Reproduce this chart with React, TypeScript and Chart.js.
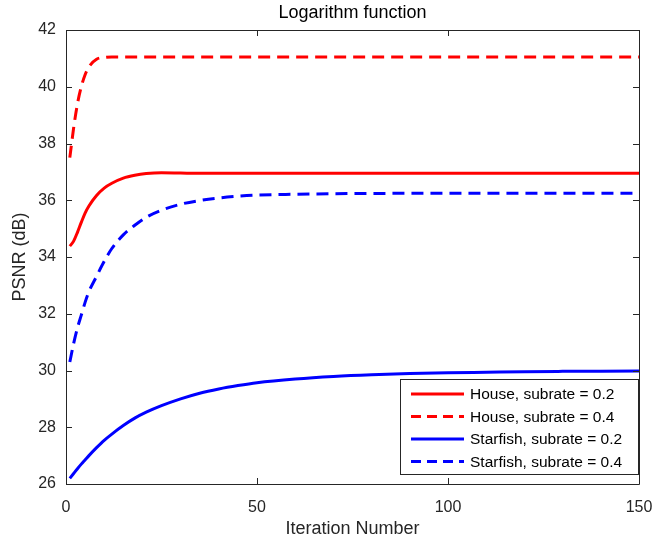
import React, { useEffect, useRef } from "react";
import { Chart, registerables } from "chart.js";

Chart.register(...registerables);

const iterations = [1, 2, 3, 4, 5, 6, 8, 10, 12, 15, 18, 21, 25, 30, 35, 40, 45, 50, 60, 70, 80, 90, 100, 110, 120, 130, 140, 150];

const house02 = [34.38, 34.56, 34.87, 35.22, 35.55, 35.8, 36.17, 36.43, 36.6, 36.78, 36.88, 36.94, 36.97, 36.96, 36.95, 36.95, 36.95, 36.95, 36.95, 36.95, 36.95, 36.95, 36.95, 36.95, 36.95, 36.95, 36.95, 36.95];
const house04 = [37.5, 38.55, 39.4, 40.0, 40.42, 40.7, 40.97, 41.03, 41.05, 41.05, 41.05, 41.05, 41.05, 41.05, 41.05, 41.05, 41.05, 41.05, 41.05, 41.05, 41.05, 41.05, 41.05, 41.05, 41.05, 41.05, 41.05, 41.05];
const starfish02 = [26.2, 26.37, 26.54, 26.7, 26.85, 27.0, 27.28, 27.54, 27.76, 28.06, 28.32, 28.53, 28.76, 29.0, 29.2, 29.35, 29.47, 29.57, 29.7, 29.79, 29.85, 29.89, 29.92, 29.94, 29.96, 29.97, 29.975, 29.98];
const starfish04 = [30.3, 30.95, 31.5, 31.95, 32.4, 32.78, 33.32, 33.85, 34.3, 34.78, 35.12, 35.4, 35.65, 35.86, 35.99, 36.08, 36.14, 36.18, 36.21, 36.23, 36.24, 36.245, 36.25, 36.25, 36.25, 36.25, 36.25, 36.25];

const seriesLabels = ["House, subrate = 0.2", "House, subrate = 0.4", "Starfish, subrate = 0.2", "Starfish, subrate = 0.4"];
const seriesValues = [house02, house04, starfish02, starfish04];
const seriesColors = ["#ff0000", "#ff0000", "#0000ff", "#0000ff"];
const seriesDashed = [false, true, false, true];

const xTicks = [0, 50, 100, 150];
const yTicks = [26, 28, 30, 32, 34, 36, 38, 40, 42];

const chartTitle = "Logarithm function";
const xTitle = "Iteration Number";
const yTitle = "PSNR (dB)";

const FONT = "'Liberation Sans', Arial, Helvetica, sans-serif";
const AXIS = "#262626";
const DASH = [12, 7];

const boxPlugin = {
  id: "matlabBox",
  afterDatasetsDraw(chart: any) {
    const ctx = chart.ctx;
    const ca = chart.chartArea;
    const xs = chart.scales.x;
    const ys = chart.scales.y;
    ctx.save();
    ctx.strokeStyle = AXIS;
    ctx.lineWidth = 1;
    ctx.beginPath();
    ctx.rect(Math.round(ca.left) + 0.5, Math.round(ca.top) + 0.5, Math.round(ca.right - ca.left), Math.round(ca.bottom - ca.top));
    ctx.stroke();
    const tl = 6;
    ctx.beginPath();
    xTicks.forEach((v) => {
      const px = Math.round(xs.getPixelForValue(v)) + 0.5;
      ctx.moveTo(px, ca.bottom);
      ctx.lineTo(px, ca.bottom - tl);
      ctx.moveTo(px, ca.top);
      ctx.lineTo(px, ca.top + tl);
    });
    yTicks.forEach((v) => {
      const py = Math.round(ys.getPixelForValue(v)) + 0.5;
      ctx.moveTo(ca.left, py);
      ctx.lineTo(ca.left + tl, py);
      ctx.moveTo(ca.right, py);
      ctx.lineTo(ca.right - tl, py);
    });
    ctx.stroke();

    ctx.fillStyle = "#000000";
    ctx.font = `18px ${FONT}`;
    ctx.textAlign = "center";
    ctx.textBaseline = "middle";
    ctx.fillText(chartTitle, (ca.left + ca.right) / 2, 13);

    ctx.font = `15.5px ${FONT}`;
    let maxW = 0;
    seriesLabels.forEach((l) => {
      maxW = Math.max(maxW, ctx.measureText(l).width);
    });
    const rowH = 22.5;
    const boxRight = Math.round(ca.right) - 1;
    const boxBottom = Math.round(ca.bottom) - 10;
    const boxW = Math.round(11 + 53 + 6 + maxW + 16);
    const boxH = Math.round(rowH * 4 + 5);
    const boxLeft = boxRight - boxW;
    const boxTop = boxBottom - boxH;
    ctx.fillStyle = "#ffffff";
    ctx.fillRect(boxLeft, boxTop, boxW, boxH);
    ctx.strokeStyle = AXIS;
    ctx.lineWidth = 1;
    ctx.strokeRect(boxLeft + 0.5, boxTop + 0.5, boxW, boxH);
    seriesLabels.forEach((l, i) => {
      const y = boxTop + 15 + i * rowH;
      ctx.strokeStyle = seriesColors[i];
      ctx.lineWidth = 3;
      ctx.setLineDash(seriesDashed[i] ? [10, 6] : []);
      ctx.beginPath();
      ctx.moveTo(boxLeft + 11, y);
      ctx.lineTo(boxLeft + 64, y);
      ctx.stroke();
      ctx.setLineDash([]);
      ctx.fillStyle = "#000000";
      ctx.textAlign = "left";
      ctx.textBaseline = "middle";
      ctx.fillText(l, boxLeft + 70, y + 1);
    });
    ctx.restore();
  },
};

export default function App() {
  const ref = useRef<HTMLCanvasElement | null>(null);
  useEffect(() => {
    document.body.style.margin = "0";
    if (!ref.current) return;
    const datasets = seriesValues.map((vals, i) => ({
      label: seriesLabels[i],
      data: iterations.map((x, j) => ({ x, y: vals[j] })),
      borderColor: seriesColors[i],
      backgroundColor: seriesColors[i],
      borderWidth: 3,
      borderDash: seriesDashed[i] ? DASH : [],
      pointRadius: 0,
      fill: false,
      tension: 0.4,
      cubicInterpolationMode: "monotone" as const,
    }));
    const chart = new Chart(ref.current, {
      type: "line",
      data: { datasets },
      plugins: [boxPlugin],
      options: {
        animation: false,
        responsive: false,
        devicePixelRatio: 1,
        layout: { padding: { top: 30, right: 15, left: 0, bottom: 0 } },
        plugins: {
          legend: { display: false },
          title: { display: false },
          tooltip: { enabled: false },
        },
        scales: {
          x: {
            type: "linear",
            min: 0,
            max: 150,
            afterBuildTicks: (s: any) => {
              s.ticks = xTicks.map((v) => ({ value: v }));
            },
            afterFit: (s: any) => {
              s.height = 61;
              s.paddingRight = 0;
              s.paddingLeft = 0;
            },
            ticks: {
              color: AXIS,
              font: { size: 16, family: FONT },
              padding: 14,
              maxRotation: 0,
            },
            grid: { display: false, drawTicks: false },
            border: { display: false },
            title: {
              display: true,
              text: xTitle,
              color: AXIS,
              font: { size: 18, family: FONT },
              padding: { top: 0, bottom: 5 },
            },
          },
          y: {
            type: "linear",
            min: 26,
            max: 42,
            afterBuildTicks: (s: any) => {
              s.ticks = yTicks.map((v) => ({ value: v }));
            },
            afterFit: (s: any) => {
              s.width = 66;
              s.paddingTop = 0;
              s.paddingBottom = 0;
            },
            ticks: {
              color: AXIS,
              font: { size: 16, family: FONT },
              padding: 10,
            },
            grid: { display: false, drawTicks: false },
            border: { display: false },
            title: {
              display: true,
              text: yTitle,
              color: AXIS,
              font: { size: 18, family: FONT },
              padding: { top: 9, bottom: 0 },
            },
          },
        },
      },
    });
    return () => chart.destroy();
  }, []);
  return (
    <div style={{ position: "fixed", left: 0, top: 0, width: 654, height: 545, background: "#ffffff" }}>
      <canvas ref={ref} width={654} height={545} />
    </div>
  );
}
